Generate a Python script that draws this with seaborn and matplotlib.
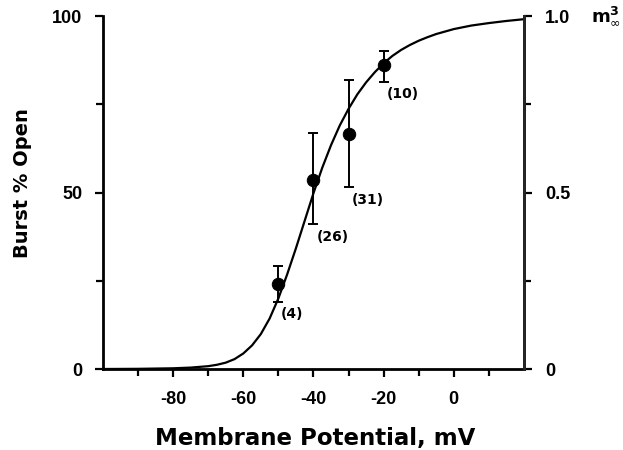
import numpy as np
import pandas as pd
import matplotlib
matplotlib.use("Agg")
import matplotlib.pyplot as plt
import seaborn as sns

# Fitted curve
curve_mv = [-100, -90, -80, -75, -70, -67.5, -65, -62.5, -60, -57.5, -55, -52.5, -50, -47.5,
            -45, -42.5, -40, -37.5, -35, -32.5, -30, -27.5, -25, -22.5, -20, -17.5, -15,
            -12.5, -10, -7.5, -5, -2.5, 0, 5, 10, 15, 20]
curve_pct = [0, 0.05, 0.2, 0.4, 0.8, 1.2, 1.8, 2.8, 4.4, 6.7, 9.9, 14.3, 20.0, 26.8,
             34.2, 42.0, 49.8, 57.0, 63.4, 69.0, 73.7, 77.8, 81.2, 84.1, 86.6, 88.7, 90.4,
             91.8, 93.0, 94.0, 94.9, 95.6, 96.3, 97.3, 98.0, 98.6, 99.1]

# Data points
pts_mv = [-50, -40, -30, -20]
pts_pct = [24, 53.5, 66.5, 86]
err_low = [19, 41, 51.5, 81.3]
err_high = [29.3, 66.8, 82, 90.2]
pts_n = ["(4)", "(26)", "(31)", "(10)"]

x_ticks = [-80, -60, -40, -20, 0]
y_ticks = [0, 50, 100]
y2_ticks = [0, 0.5, 1.0]
y2_labels = ["0", "0.5", "1.0"]

sns.set_style("ticks")
plt.rcParams['font.family'] = ['Liberation Sans', 'DejaVu Sans']
plt.rcParams['text.color'] = 'black'
plt.rcParams['axes.labelcolor'] = 'black'
plt.rcParams['xtick.color'] = 'black'
plt.rcParams['ytick.color'] = 'black'

fig = plt.figure(figsize=(6.23, 4.5), dpi=100)
ax = fig.add_axes([0.1653, 0.18, 0.8410 - 0.1653, 0.9644 - 0.18])

curve_df = pd.DataFrame({"mv": curve_mv, "pct": curve_pct})
pts_df = pd.DataFrame({"mv": pts_mv, "pct": pts_pct})

sns.lineplot(data=curve_df, x="mv", y="pct", ax=ax, color="black", linewidth=1.6)
lo = np.array(pts_pct) - np.array(err_low)
hi = np.array(err_high) - np.array(pts_pct)
ax.errorbar(pts_mv, pts_pct, yerr=[lo, hi], fmt="none", ecolor="black",
            elinewidth=1.4, capsize=3.5, capthick=1.4)
sns.scatterplot(data=pts_df, x="mv", y="pct", ax=ax, color="black", s=80,
                edgecolor="black", zorder=5)

for xv, yv, n, lw in zip(pts_mv, pts_pct, pts_n, err_low):
    ax.text(xv + 0.8, lw - 1.5, n, fontsize=10, fontweight="bold", ha="left", va="top",
            family="DejaVu Sans")

ax.set_xlim(-100, 20)
ax.set_ylim(0, 100)
ax.set_xticks(x_ticks)
ax.set_xticks(np.arange(-90, 20, 10), minor=True)
ax.set_yticks(y_ticks)
ax.set_yticks([25, 75], minor=True)
ax.set_yticklabels([str(v) for v in y_ticks])
ax.set_xticklabels([str(v) for v in x_ticks])

ax.spines["top"].set_visible(False)
for s in ["left", "bottom", "right"]:
    ax.spines[s].set_linewidth(2.0)
    ax.spines[s].set_color("black")

ax.tick_params(axis="x", which="major", length=6, width=1.6, labelsize=13,
               colors="black", pad=10)
ax.tick_params(axis="y", which="major", length=6, width=1.6, labelsize=13,
               colors="black", pad=9)
ax.tick_params(axis="both", which="minor", length=5, width=1.6)
for lab in ax.get_xticklabels() + ax.get_yticklabels():
    lab.set_fontweight("bold")

ax.set_xlabel("Membrane Potential, mV", fontsize=16.5, fontweight="bold",
              family="DejaVu Sans")
ax.xaxis.set_label_coords(0.504, -0.163)
ax.set_ylabel("Burst % Open", fontsize=14, fontweight="bold", family="DejaVu Sans")
ax.yaxis.set_label_coords(-0.168, 0.527)

ax2 = ax.twinx()
ax2.set_ylim(0, 1.0)
ax2.set_yticks(y2_ticks)
ax2.set_yticklabels(y2_labels)
ax2.set_yticks([0.25, 0.75], minor=True)
ax2.tick_params(axis="y", which="major", length=6, width=1.6, labelsize=13, pad=9,
                colors="black")
ax2.tick_params(axis="y", which="minor", length=5, width=1.6)
for lab in ax2.get_yticklabels():
    lab.set_fontweight("bold")
ax2.spines["top"].set_visible(False)
ax2.spines["right"].set_linewidth(2.0)
ax2.spines["left"].set_visible(False)
ax2.spines["bottom"].set_visible(False)
ax2.text(1.16, 1.0, r"$\mathbf{m}_{\infty}^{\mathbf{3}}$", transform=ax2.transAxes,
         fontsize=13, ha="left", va="center")

fig.savefig("out.png", dpi=100)
